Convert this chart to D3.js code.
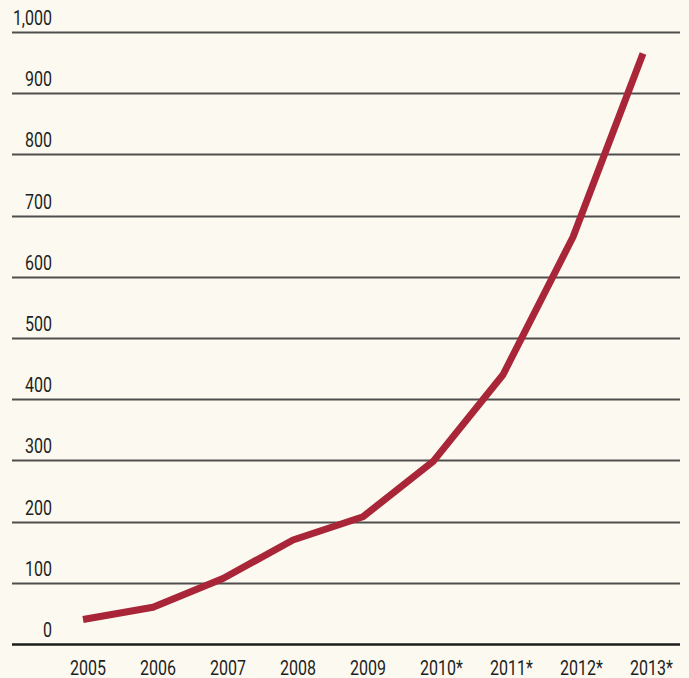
<!DOCTYPE html>
<html>
<head>
<meta charset="utf-8">
<script src="https://cdn.jsdelivr.net/npm/d3@7"></script>
<style>
  html, body { margin: 0; padding: 0; background: #fcfaf0; }
  svg { display: block; }
  text { font-family: Roboto, "Liberation Sans", sans-serif; fill: #1e1e1e; }
</style>
</head>
<body>
<div id="chart"></div>
<script>
// chart values
const years = ["2005", "2006", "2007", "2008", "2009", "2010*", "2011*", "2012*", "2013*"];
const values = [40, 60, 107, 170, 208, 298, 440, 665, 965];
const yTicks = [0, 100, 200, 300, 400, 500, 600, 700, 800, 900, 1000];

const width = 689;
const height = 678;
const squeeze = 0.8; // condensed look of the printed labels

const svg = d3
  .select("#chart")
  .append("svg")
  .attr("width", width)
  .attr("height", height);

// scales
const x = d3.scalePoint().domain(years).range([83, 643]);
const y = d3.scaleLinear().domain([0, 1000]).range([644, 32]);

// horizontal rules
svg
  .selectAll(".grid")
  .data(yTicks)
  .enter()
  .append("line")
  .attr("class", "grid")
  .attr("x1", 12)
  .attr("x2", 680)
  .attr("y1", (d) => Math.round(y(d)) + 0.5)
  .attr("y2", (d) => Math.round(y(d)) + 0.5)
  .attr("stroke", (d) => (d === 0 ? "#1c1c1c" : "#4e4e4e"))
  .attr("stroke-width", (d) => (d === 0 ? 2.5 : 2));

// y labels sit above the rules
svg
  .selectAll(".ylab")
  .data(yTicks)
  .enter()
  .append("text")
  .attr("class", "ylab")
  .attr("transform", (d) => `translate(52,${y(d) - 7}) scale(${squeeze},1)`)
  .attr("text-anchor", "end")
  .style("font-size", "20px")
  .text((d) => d3.format(",")(d));

// x labels
svg
  .selectAll(".xlab")
  .data(years)
  .enter()
  .append("text")
  .attr("class", "xlab")
  .attr("transform", (d) => `translate(${x(d) - 13},675) scale(${squeeze},1)`)
  .style("font-size", "20px")
  .text((d) => d);

// the line
const line = d3
  .line()
  .x((d, i) => x(years[i]))
  .y((d) => y(d));

svg
  .append("path")
  .datum(values)
  .attr("d", line)
  .attr("fill", "none")
  .attr("stroke", "#a92638")
  .attr("stroke-width", 7)
  .attr("stroke-linejoin", "round")
  .attr("stroke-linecap", "butt");
</script>
</body>
</html>
